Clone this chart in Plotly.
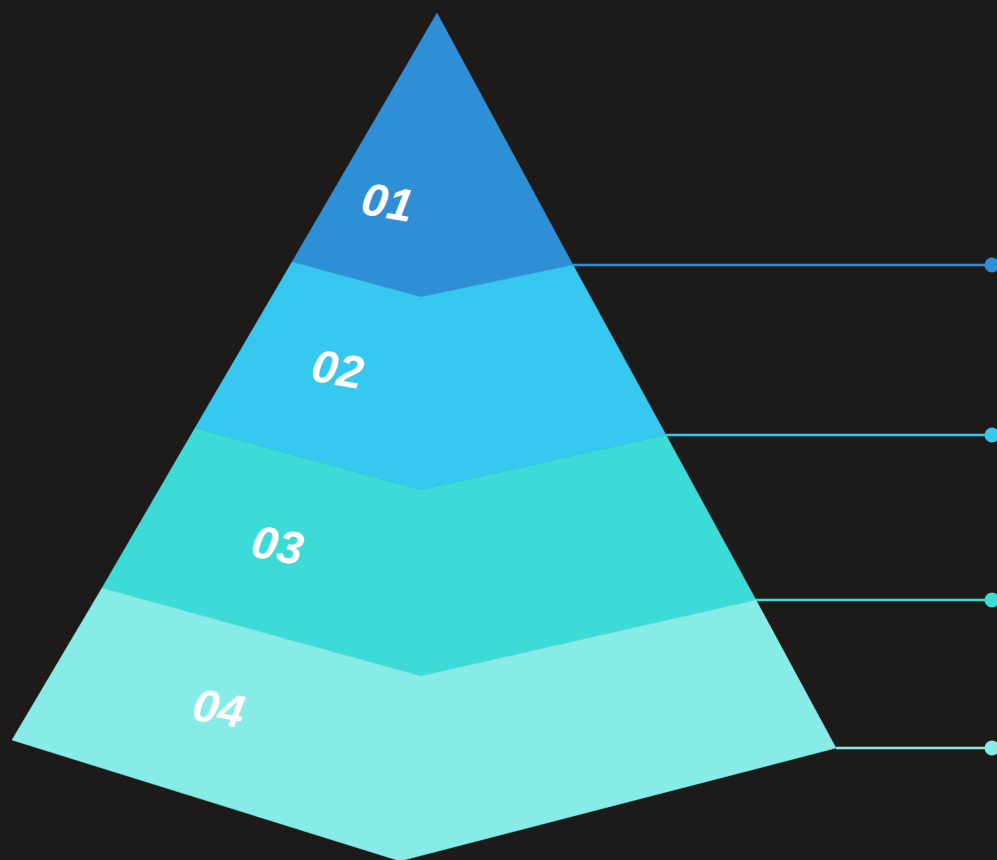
import plotly.graph_objects as go

# Layer data
labels = ["01", "02", "03", "04"]
colors = ["#2e8fd6", "#37c8ef", "#3ddbd8", "#87ebe7"]

# Pyramid outline (pixel space)
apex = (437, 13)
bound_left_x = [292, 195, 102, 12]
bound_left_y = [262, 428, 588, 740]
bound_mid_x = [421, 421, 421, 400]
bound_mid_y = [297, 490, 676, 861]
bound_right_x = [573, 666, 756, 836]
bound_right_y = [265, 435, 600, 748]

# label positions
label_x = [387, 338, 278, 218]
label_y = [202, 369, 545, 708]
label_angle = 10

# connector lines
line_end_x = 992

fig = go.Figure()

for i in range(4):
    if i == 0:
        xs = [apex[0], bound_right_x[0], bound_mid_x[0], bound_left_x[0], apex[0]]
        ys = [apex[1], bound_right_y[0], bound_mid_y[0], bound_left_y[0], apex[1]]
    else:
        xs = [bound_left_x[i-1], bound_mid_x[i-1], bound_right_x[i-1],
              bound_right_x[i], bound_mid_x[i], bound_left_x[i], bound_left_x[i-1]]
        ys = [bound_left_y[i-1], bound_mid_y[i-1], bound_right_y[i-1],
              bound_right_y[i], bound_mid_y[i], bound_left_y[i], bound_left_y[i-1]]
    fig.add_trace(go.Scatter(x=xs, y=ys, fill="toself", fillcolor=colors[i],
                             mode="lines", line=dict(color=colors[i], width=0.5),
                             hoverinfo="skip", showlegend=False))

for i in range(4):
    fig.add_trace(go.Scatter(x=[bound_right_x[i], line_end_x], y=[bound_right_y[i], bound_right_y[i]],
                             mode="lines", line=dict(color=colors[i], width=2.5),
                             hoverinfo="skip", showlegend=False))
    fig.add_trace(go.Scatter(x=[line_end_x], y=[bound_right_y[i]], mode="markers",
                             marker=dict(color=colors[i], size=15),
                             hoverinfo="skip", showlegend=False, cliponaxis=False))

for i in range(4):
    fig.add_annotation(x=label_x[i], y=label_y[i], text="<b><i>" + labels[i] + "</i></b>",
                       showarrow=False, textangle=label_angle,
                       font=dict(family="Liberation Sans", size=46, color="white"))

fig.update_layout(
    width=997, height=860,
    margin=dict(l=0, r=0, t=0, b=0),
    paper_bgcolor="#1d1b1a", plot_bgcolor="#1d1b1a",
    xaxis=dict(range=[0, 997], visible=False, fixedrange=True),
    yaxis=dict(range=[860, 0], visible=False, fixedrange=True),
)

fig.write_html(
    "out.html",
    config={"displayModeBar": False},
    post_script="document.documentElement.style.margin='0';document.body.style.margin='0';"
                "document.body.style.overflow='hidden';document.documentElement.style.overflow='hidden';"
                "document.body.style.background='#1d1b1a';",
)
